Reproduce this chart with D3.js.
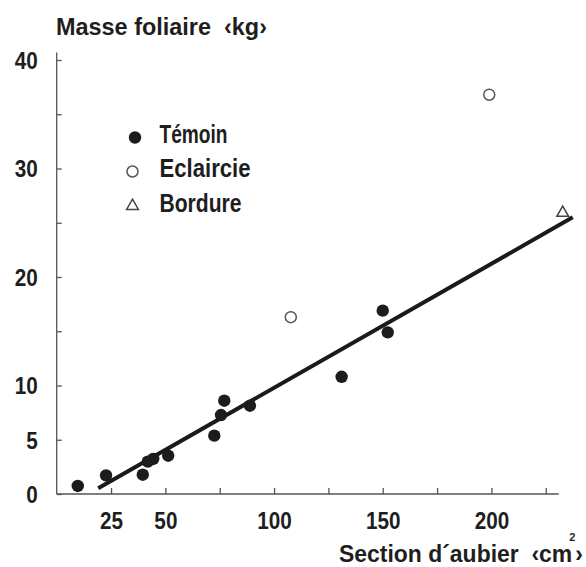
<!DOCTYPE html>
<html>
  <head>
  <meta charset="utf-8">
  <title>Masse foliaire</title>
  <script src="https://d3js.org/d3.v7.min.js"></script>
  </head>
  <body>
    <svg id="svg" width="586" height="567"></svg>
  </body>
</html>

<script>
  // Témoin (filled circles)
  const temoinX = [9.7, 22.7, 39.6, 41.9, 44.4, 51.3, 72.5, 75.6, 77.1, 88.9, 131.1, 150.0, 152.3];
  const temoinY = [0.74, 1.72, 1.78, 2.98, 3.23, 3.53, 5.38, 7.28, 8.6, 8.14, 10.8, 16.9, 14.9];
  // Eclaircie (open circles)
  const eclaircieX = [107.7, 199.0];
  const eclaircieY = [16.3, 36.8];
  // Bordure (triangle)
  const bordureX = [232.8];
  const bordureY = [26.0];
  // regression line
  const fitX = [19.1, 237.4];
  const fitSlope = 0.1144;
  const fitIntercept = -1.655;

  const xTicks = [25, 50, 75, 100, 125, 150, 175, 200, 225];
  const xLabels = [25, 50, 100, 150, 200];
  const yTicks = [0, 5, 10, 15, 20, 25, 30, 35, 40];
  const yLabels = [0, 5, 10, 20, 30, 40];

  const legendNames = ["Témoin", "Eclaircie", "Bordure"];

  const ink = "#1e1e1e";
  const font = "'Liberation Sans', Arial, sans-serif";

  const svg = d3.select("#svg");
  svg.append("rect").attr("width", 586).attr("height", 567).attr("fill", "#fff");

  const x = d3.scaleLinear().domain([0, 231]).range([56.7, 558.8]);
  const y = d3.scaleLinear().domain([0, 40]).range([494, 60]);

  function styleText(sel, size) {
    sel.attr("fill", ink)
      .style("font-family", font)
      .style("font-weight", "bold")
      .style("font-size", size + "px");
  }

  // squeeze a text horizontally, the original type is a bold condensed face
  function condense(sel, factor) {
    sel.each(function () {
      const w = this.getComputedTextLength();
      if (w > 0) {
        d3.select(this).attr("textLength", w * factor).attr("lengthAdjust", "spacingAndGlyphs");
      }
    });
  }

  // y axis, ticks pointing inside
  const yAxis = svg.append("g")
    .attr("transform", `translate(${x(0)},0)`)
    .call(d3.axisLeft(y).tickValues(yTicks).tickSize(-5).tickPadding(19)
      .tickFormat(d => yLabels.includes(d) ? d : ""));
  yAxis.select(".domain").attr("d", `M0,${y(40.7)}V${y(0)}`);

  // x axis
  const xAxis = svg.append("g")
    .attr("transform", `translate(0,${y(0)})`)
    .call(d3.axisBottom(x).tickValues(xTicks).tickSize(-6).tickPadding(19)
      .tickFormat(d => xLabels.includes(d) ? d : ""));
  xAxis.select(".domain").attr("d", `M${x(0)},0H${x(231)}`);

  svg.selectAll(".domain").attr("stroke", "#555").attr("stroke-width", 1.3);
  svg.selectAll(".tick line").attr("stroke", "#555").attr("stroke-width", 1.3);
  styleText(svg.selectAll(".tick text"), 23);
  yAxis.selectAll(".tick text").attr("dy", "0.36em");
  condense(svg.selectAll(".tick text"), 0.9);

  // regression line
  svg.append("line")
    .attr("x1", x(fitX[0])).attr("y1", y(fitSlope * fitX[0] + fitIntercept))
    .attr("x2", x(fitX[1])).attr("y2", y(fitSlope * fitX[1] + fitIntercept))
    .attr("stroke", "#1a1a1a").attr("stroke-width", 4);

  // points
  svg.append("g").selectAll("circle")
    .data(d3.zip(temoinX, temoinY))
    .join("circle")
    .attr("cx", d => x(d[0])).attr("cy", d => y(d[1]))
    .attr("r", 6.2).attr("fill", "#1c1c1c");

  svg.append("g").selectAll("circle")
    .data(d3.zip(eclaircieX, eclaircieY))
    .join("circle")
    .attr("cx", d => x(d[0])).attr("cy", d => y(d[1]))
    .attr("r", 5.5).attr("fill", "none").attr("stroke", "#555").attr("stroke-width", 1.5);

  const tri = d3.symbol().type(d3.symbolTriangle).size(60);
  svg.append("g").selectAll("path")
    .data(d3.zip(bordureX, bordureY))
    .join("path")
    .attr("transform", d => `translate(${x(d[0])},${y(d[1]) + 1})`)
    .attr("d", tri).attr("fill", "none").attr("stroke", "#444").attr("stroke-width", 1.5);

  // legend
  const legend = svg.append("g");
  legend.append("circle").attr("cx", 135).attr("cy", 137.5).attr("r", 6.2).attr("fill", "#1c1c1c");
  legend.append("circle").attr("cx", 132.5).attr("cy", 171.5).attr("r", 5.5)
    .attr("fill", "none").attr("stroke", "#555").attr("stroke-width", 1.5);
  legend.append("path").attr("transform", "translate(132.5,206)").attr("d", tri)
    .attr("fill", "none").attr("stroke", "#444").attr("stroke-width", 1.5);
  const legendWidths = [68, 91, 82];
  legend.selectAll("text")
    .data(legendNames)
    .join("text")
    .attr("x", 159.5).attr("y", (d, i) => 143 + i * 34.3)
    .call(styleText, 26.5)
    .attr("textLength", (d, i) => legendWidths[i])
    .attr("lengthAdjust", "spacingAndGlyphs")
    .text(d => d);

  // titles
  svg.append("text")
    .attr("x", 56).attr("y", 35)
    .call(styleText, 23)
    .style("white-space", "pre")
    .attr("textLength", 211)
    .attr("lengthAdjust", "spacingAndGlyphs")
    .text("Masse foliaire  \u2039kg\u203A");

  const xt = svg.append("text")
    .attr("x", 339).attr("y", 561.5)
    .call(styleText, 23)
    .style("white-space", "pre")
    .attr("textLength", 244)
    .attr("lengthAdjust", "spacingAndGlyphs");
  xt.append("tspan").text("Section d\u00B4aubier  \u2039cm");
  xt.append("tspan").attr("dy", -21).attr("dx", -3).style("font-size", "11px").text("2");
  xt.append("tspan").attr("dy", 21).text("\u203A");
</script>

<style>
  body { margin: 0; }
</style>
